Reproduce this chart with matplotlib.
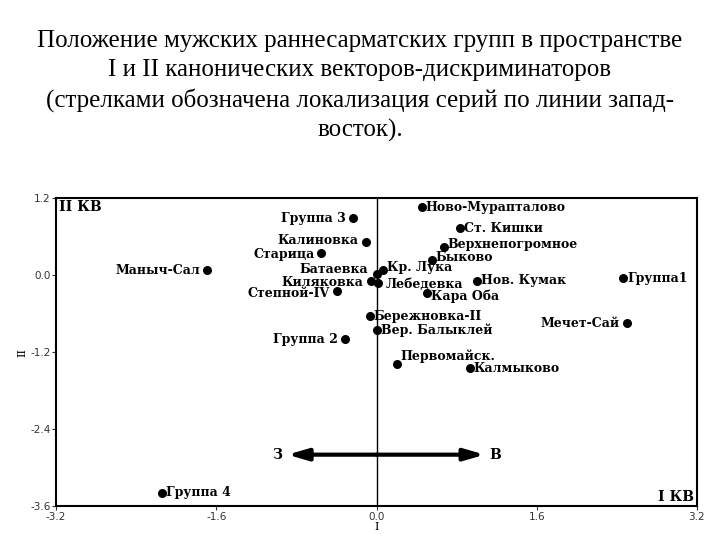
import matplotlib
matplotlib.use('Agg')
from matplotlib import pyplot as plt

# data: group names and coordinates in the space of canonical vectors I and II
names = ['Ново-Мурапталово', 'Группа 3', 'Ст. Кишки', 'Калиновка', 'Верхнепогромное',
         'Старица', 'Быково', 'Маныч-Сал', 'Кр. Лука', 'Батаевка', 'Киляковка',
         'Лебедевка', 'Нов. Кумак', 'Группа1', 'Степной-IV', 'Кара Оба',
         'Бережновка-II', 'Мечет-Сай', 'Вер. Балыклей', 'Группа 2', 'Первомайск.',
         'Калмыково', 'Группа 4']
can1 = [0.45, -0.24, 0.83, -0.11, 0.67, -0.55, 0.55, -1.69, 0.06, 0.0, -0.06,
        0.01, 1.0, 2.46, -0.40, 0.50, -0.07, 2.50, 0.0, -0.32, 0.20, 0.93, -2.14]
can2 = [1.06, 0.89, 0.73, 0.52, 0.44, 0.34, 0.23, 0.08, 0.08, 0.02, -0.09,
        -0.12, -0.09, -0.05, -0.25, -0.28, -0.64, -0.75, -0.86, -1.0, -1.38, -1.45, -3.39]

xticks = [-3.2, -1.6, 0.0, 1.6, 3.2]
yticks = [1.2, 0.0, -1.2, -2.4, -3.6]

# west-east arrow
arrow_x = [-0.89, 1.08]
arrow_y = -2.80

title = ('Положение мужских раннесарматских групп в пространстве\n'
         'I и II канонических векторов-дискриминаторов\n'
         '(стрелками обозначена локализация серий по линии запад-\n'
         'восток).')

# labels placed left of the dot (others go to the right); offsets in points
left_side = {'Группа 3', 'Калиновка', 'Старица', 'Маныч-Сал', 'Батаевка',
             'Киляковка', 'Степной-IV', 'Группа 2', 'Мечет-Сай'}
dy = {'Верхнепогромное': 2, 'Батаевка': 3, 'Кр. Лука': 2, 'Первомайск.': 5,
      'Киляковка': -1, 'Лебедевка': -1, 'Быково': 2, 'Калиновка': 1,
      'Старица': -1, 'Степной-IV': -2, 'Кара Оба': -2}
dx = {'Батаевка': -1, 'Лебедевка': 3}

plt.rcParams['axes.unicode_minus'] = False

fig = plt.figure(figsize=(7.2, 5.4), dpi=100)
fig.text(0.5, 0.945, title, ha='center', va='top', family='Liberation Serif',
         fontsize=18, linespacing=1.4)

ax = fig.add_axes([0.078, 0.063, 0.890, 0.570])
ax.scatter(can1, can2, s=30, color='black', zorder=3)
for n, x, y in zip(names, can1, can2):
    if n in left_side:
        ax.annotate(n, (x, y), xytext=(-5 + dx.get(n, 0), dy.get(n, 0)), textcoords='offset points',
                    ha='right', va='center', fontsize=9, fontweight='bold',
                    family='DejaVu Serif')
    else:
        ax.annotate(n, (x, y), xytext=(3 + dx.get(n, 0), dy.get(n, 0)), textcoords='offset points',
                    ha='left', va='center', fontsize=9, fontweight='bold',
                    family='DejaVu Serif')

ax.axvline(0, color='black', lw=1, zorder=1)

ax.annotate('', xy=(arrow_x[0], arrow_y), xytext=(0, arrow_y),
            arrowprops=dict(arrowstyle='-|>,head_length=1.2,head_width=0.35', lw=3, color='black',
                            shrinkA=0, shrinkB=0))
ax.annotate('', xy=(arrow_x[1], arrow_y), xytext=(0, arrow_y),
            arrowprops=dict(arrowstyle='-|>,head_length=1.2,head_width=0.35', lw=3, color='black',
                            shrinkA=0, shrinkB=0))
ax.text(arrow_x[0] - 0.05, arrow_y, 'З', ha='right', va='center', fontsize=10,
        fontweight='bold', family='DejaVu Serif')
ax.text(arrow_x[1] + 0.05, arrow_y, 'В', ha='left', va='center', fontsize=10,
        fontweight='bold', family='DejaVu Serif')

ax.text(0.005, 0.995, 'II КВ', transform=ax.transAxes, ha='left', va='top',
        fontsize=10, fontweight='bold', family='DejaVu Serif')
ax.text(0.995, 0.005, 'I КВ', transform=ax.transAxes, ha='right', va='bottom',
        fontsize=10, fontweight='bold', family='DejaVu Serif')

ax.set_xlim(-3.2, 3.2)
ax.set_ylim(-3.6, 1.2)
ax.set_xticks(xticks)
ax.set_xticklabels(['%.1f' % t for t in xticks])
ax.set_yticks(yticks)
ax.set_yticklabels(['%.1f' % t for t in yticks])
ax.tick_params(labelsize=7.5, colors='#333333', length=3, width=0.8, pad=1)
for sp in ax.spines.values():
    sp.set_linewidth(1.5)
ax.set_xlabel('I', family='DejaVu Serif', fontsize=8, labelpad=0)
ax.set_ylabel('II', family='DejaVu Serif', fontsize=8, labelpad=2)

fig.savefig('out.png', dpi=100)
